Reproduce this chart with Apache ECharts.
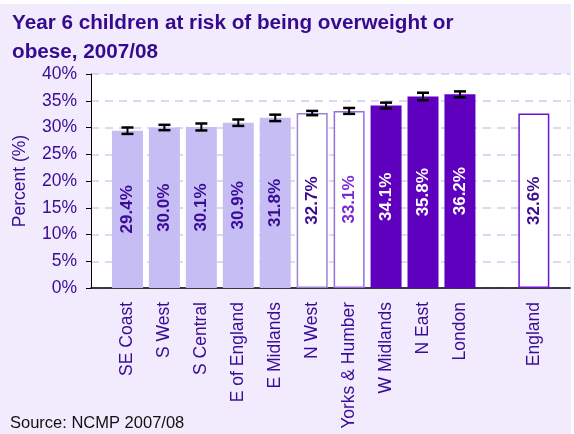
<!DOCTYPE html>
<html>
<head>
<meta charset="utf-8">
<script src="https://cdn.jsdelivr.net/npm/echarts@6/dist/echarts.min.js"></script>
<style>
html,body{margin:0;padding:0;background:#fff;}
#c{width:574px;height:434px;}
</style>
</head>
<body>
<div id="c"></div>
<script>
// ---- data ----
var categories = ['SE Coast','S West','S Central','E of England','E Midlands','N West','Yorks & Humber','W Midlands','N East','London','','England'];
var values = [29.4, 30.0, 30.1, 30.9, 31.8, 32.7, 33.1, 34.1, 35.8, 36.2, null, 32.6];
var ciHalf = [0.6, 0.5, 0.65, 0.6, 0.6, 0.4, 0.55, 0.55, 0.7, 0.55, null, null];
var groups = ['low','low','low','low','low','mid','mid2','high','high','high','','nat'];
var yTicks = [0, 40, 5];

var styles = {
  low:  {fill:'#C6BDF5', border:'#C6BDF5', bw:0, text:'#3A0C96'},
  mid:  {fill:'#FFFFFF', border:'#9C84D2', bw:1.5, text:'#3A0C96'},
  mid2: {fill:'#FFFFFF', border:'#9A6CE0', bw:1.5, text:'#7A2BD6'},
  high: {fill:'#5F00BF', border:'#5F00BF', bw:0, text:'#FFFFFF'},
  nat:  {fill:'#FFFFFF', border:'#6A14D2', bw:1.5, text:'#3A0C96'}
};

var barData = values.map(function(v,i){
  if (v === null) return null;
  var s = styles[groups[i]];
  return {value:v, itemStyle:{color:s.fill, borderColor:s.border, borderWidth:s.bw},
          label:{color:s.text}};
});
var errData = values.map(function(v,i){
  return ciHalf[i] === null ? [i, null, null] : [i, v - ciHalf[i], v + ciHalf[i]];
}).filter(function(d){return d[1] !== null;});

var font = 'Liberation Sans, Arial, sans-serif';
var purple = '#3A0C96';

var chart = echarts.init(document.getElementById('c'), null, {renderer:'canvas'});
chart.setOption({
  backgroundColor:'#FFFFFF',
  animation:false,
  textStyle:{fontFamily:font},
  title:{
    text:'Year 6 children at risk of being overweight or\nobese, 2007/08',
    left:7, top:4,
    textStyle:{fontFamily:font, fontSize:20.7, fontWeight:'bold', color:'#360A8E', lineHeight:29}
  },
  graphic:[
    {type:'rect', z:-100, shape:{x:0,y:4,width:571,height:430}, style:{fill:'#F1EBFD'}},
    {type:'text', left:10, top:415, style:{text:'Source: NCMP 2007/08', fontSize:16.5, fontFamily:font, fill:'#111'}}
  ],
  grid:[
    {left:91, top:74, width:479, height:214, show:true, backgroundColor:'#FFFFFF', borderWidth:0},
    {left:109, top:74, width:443.3, height:214, show:false}
  ],
  xAxis:[
    {gridIndex:0, type:'value', min:0, max:1, axisLine:{show:true, lineStyle:{color:'#000', width:1.5}},
     axisTick:{show:false}, axisLabel:{show:false}, splitLine:{show:false}},
    {gridIndex:1, type:'category', data:categories, axisLine:{show:false}, axisTick:{show:false},
     axisLabel:{rotate:90, interval:0, margin:14, fontSize:17.5, color:purple, fontFamily:font}}
  ],
  yAxis:[
    {gridIndex:0, type:'value', min:yTicks[0], max:yTicks[1], interval:yTicks[2],
     axisLine:{show:true, lineStyle:{color:'#000', width:1}},
     axisTick:{show:true, inside:false, length:5, lineStyle:{color:'#000'}},
     axisLabel:{formatter:'{value}%', fontSize:17.5, color:purple, margin:14, fontFamily:font},
     splitLine:{show:true, lineStyle:{type:[8,6], color:'#D3CCF2', width:1.5}},
     name:'Percent (%)', nameLocation:'middle', nameGap:62, nameRotate:90,
     nameTextStyle:{fontSize:17.5, color:purple, fontFamily:font}},
    {gridIndex:1, type:'value', min:yTicks[0], max:yTicks[1], interval:yTicks[2], show:false}
  ],
  series:[
    {type:'bar', xAxisIndex:1, yAxisIndex:1, data:barData, barWidth:31,
     label:{show:true, position:'inside', rotate:90, fontSize:17, fontWeight:'bold', fontFamily:font,
       formatter:function(p){return p.value.toFixed(1)+'%';}}},
    {type:'custom', xAxisIndex:1, yAxisIndex:1, data:errData, z:5,
     renderItem:function(params, api){
       var x = api.value(0);
       var lo = api.coord([x, api.value(1)]);
       var hi = api.coord([x, api.value(2)]);
       var hw = 6;
       return {type:'group', children:[
         {type:'line', shape:{x1:lo[0], y1:lo[1], x2:hi[0], y2:hi[1]}, style:{stroke:'#000', lineWidth:2}},
         {type:'line', shape:{x1:lo[0]-hw, y1:lo[1], x2:lo[0]+hw, y2:lo[1]}, style:{stroke:'#000', lineWidth:2.5}},
         {type:'line', shape:{x1:hi[0]-hw, y1:hi[1], x2:hi[0]+hw, y2:hi[1]}, style:{stroke:'#000', lineWidth:2.5}}
       ]};
     }}
  ]
});
</script>
</body>
</html>
